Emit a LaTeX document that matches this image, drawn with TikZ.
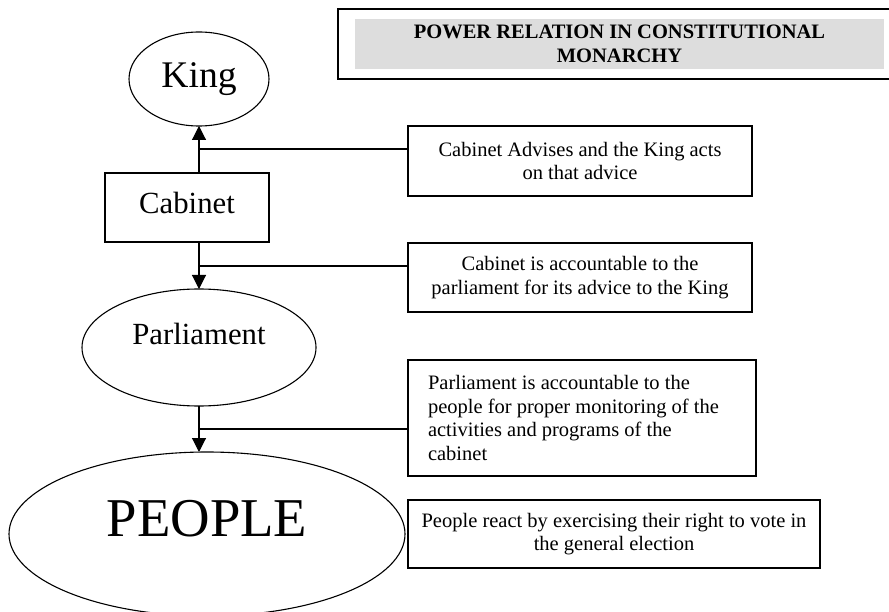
\documentclass[tikz,border=0pt]{standalone}
\usepackage{fontspec}
\setmainfont{Liberation Serif}
\usetikzlibrary{arrows.meta,shapes.geometric}
\definecolor{titlegray}{HTML}{DDDDDD}

\begin{document}
\begin{tikzpicture}[x=1pt,y=-1pt,
  oval/.style={draw, ellipse, line width=1.1pt, inner sep=0pt, outer sep=0pt},
  note/.style={draw, rectangle, line width=1.4pt, inner sep=0pt, outer sep=0pt,
    align=center, font=\fontsize{20.5}{23.5}\selectfont},
  link/.style={line width=1.1pt},
  flow/.style={line width=1.1pt, -{Triangle[length=14pt,width=14pt]}}]
\useasboundingbox (0,0) rectangle (889,612);
% title
\draw[line width=1.8pt] (338,9) rectangle (900,79);
\fill[titlegray] (355,19) rectangle (884,69);
\node[align=center, font=\bfseries\fontsize{20.5}{23.5}\selectfont] (title) at (619.5,44)
  {POWER RELATION IN CONSTITUTIONAL\\MONARCHY};
% chain of power
\node[oval, minimum width=140pt, minimum height=94pt, font=\fontsize{37.6}{40}\selectfont] (king) at (199,79) {King};
\node[draw, line width=1.4pt, inner sep=0pt, outer sep=0pt, minimum width=164pt, minimum height=69pt,
  text depth=10pt, font=\fontsize{30.75}{34}\selectfont] (cabinet) at (187,207.5) {Cabinet};
\node[oval, minimum width=234pt, minimum height=117pt,
  label={[yshift=14pt, font=\fontsize{30.75}{34}\selectfont]center:Parliament}] (parl) at (199,347.5) {};
\node[oval, minimum width=396pt, minimum height=164pt,
  label={[yshift=15pt, font=\fontsize{54.7}{58}\selectfont]center:PEOPLE}] (people) at (207,534) {};
% explanations
\node[note, minimum width=344pt, minimum height=70pt] (box1) at (580,161)
  {Cabinet Advises and the King acts\\on that advice};
\node[note, minimum width=344pt, minimum height=69pt] (box2) at (580,277.5)
  {Cabinet is accountable to the\\parliament for its advice to the King};
\node[note, minimum width=348pt, minimum height=116pt, align=flush left, text width=308pt, inner xsep=20pt] (box3) at (582,418)
  {Parliament is accountable to the\\people for proper monitoring of the\\activities and programs of the\\cabinet};
\node[note, minimum width=412pt, minimum height=68pt] (box4) at (614,534)
  {People react by exercising their right to vote in\\the general election};
% arrows
\draw[flow] (king.south |- cabinet.north) -- (king.south);
\draw[flow] (king.south |- cabinet.south) -- (parl.north);
\draw[flow] (parl.south) -- (parl.south |- people.north);
% joins to the notes
\coordinate (j1) at (199,149);
\coordinate (j2) at (199,266);
\coordinate (j3) at (199,429);
\draw[link] (j1) -- (j1 -| box1.west);
\draw[link] (j2) -- (j2 -| box2.west);
\draw[link] (j3) -- (j3 -| box3.west);
\end{tikzpicture}
\end{document}
